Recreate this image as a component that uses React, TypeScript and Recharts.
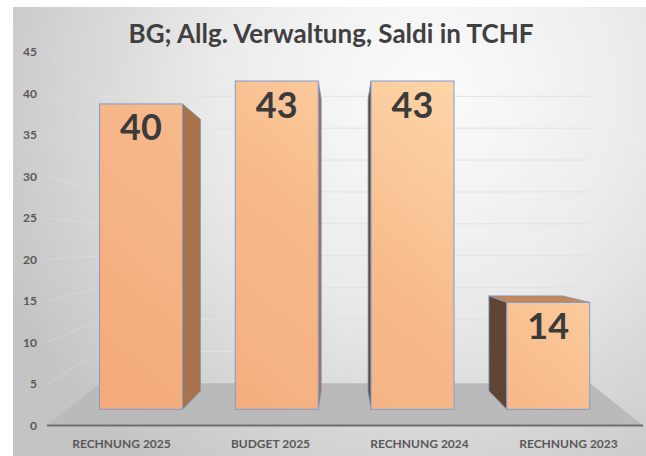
import React from 'react';
import { BarChart, Bar, XAxis, YAxis, LabelList } from 'recharts';

const categories = ['RECHNUNG 2025', 'BUDGET 2025', 'RECHNUNG 2024', 'RECHNUNG 2023'];
const saldi = [40, 43, 43, 14];
const yTicks = [0, 5, 10, 15, 20, 25, 30, 35, 40, 45];

const data = categories.map((name, i) => ({ name, saldo: saldi[i] }));

// fake 3d: vanishing point and depth factor for the bar backs
const VX = 345;
const VY = 243;
const K_BAR = 0.89;

// decoration geometry (floor + walls)
const FRONT_Y0 = 425.5;
const FRONT_STEP = 8.3;
const K_WALL = 0.768;
const WALL_L = 100;
const WALL_R = 590;

function Bar3D(props: any) {
  const { x, y, width, height } = props;
  const x0 = x, x1 = x + width, y0 = y, y1 = y + height;
  const bx = (v: number) => VX + (v - VX) * K_BAR;
  const by = (v: number) => VY + (v - VY) * K_BAR;
  const pts = (a: number[][]) => a.map((p) => p.join(',')).join(' ');
  return (
    <g>
      {x1 < VX && (
        <polygon
          points={pts([[x1, y0], [bx(x1), by(y0)], [bx(x1), by(y1)], [x1, y1]])}
          fill="#a8724a"
          stroke="#7d8fb5"
          strokeWidth={0.8}
        />
      )}
      {x0 > VX && (
        <polygon
          points={pts([[x0, y0], [bx(x0), by(y0)], [bx(x0), by(y1)], [x0, y1]])}
          fill="#5f4533"
          stroke="#7d8fb5"
          strokeWidth={0.8}
        />
      )}
      {y0 > VY && (
        <polygon
          points={pts([[x0, y0], [x1, y0], [bx(x1), by(y0)], [bx(x0), by(y0)]])}
          fill="#c4875c"
          stroke="#7d8fb5"
          strokeWidth={0.8}
        />
      )}
      <rect x={x0} y={y0} width={width} height={height} fill="url(#frontFill)" stroke="#7e9ccf" strokeWidth={1} />
    </g>
  );
}

function Backdrop() {
  const wallY = (v: number) => VY + (FRONT_Y0 - FRONT_STEP * v - VY) * K_WALL;
  const floorBack = wallY(0);
  return (
    <svg width={646} height={456} style={{ position: 'absolute', left: 0, top: 0 }}>
      <defs>
        <radialGradient id="bg" gradientUnits="userSpaceOnUse" cx={430} cy={90} r={470}>
          <stop offset="0" stopColor="#fcfcfc" />
          <stop offset="0.45" stopColor="#ebebeb" />
          <stop offset="1" stopColor="#c4c4c4" />
        </radialGradient>
      </defs>
      <rect x={13} y={7} width={633} height={449} fill="url(#bg)" />
      {yTicks.filter((t) => t > 0).map((t) => (
        <g key={t}>
          <line x1={WALL_L} x2={WALL_R} y1={wallY(t)} y2={wallY(t)} stroke="#e2e2e2" strokeWidth={1} />
          <line x1={47} x2={WALL_L} y1={FRONT_Y0 - FRONT_STEP * t} y2={wallY(t)} stroke="#efefef" strokeWidth={1} opacity={0.3} />
        </g>
      ))}
      <polygon
        points={`47,${FRONT_Y0} 643,${FRONT_Y0} ${WALL_R},${floorBack} ${WALL_L},${floorBack}`}
        fill="#bababa"
      />
      <text
        x={331}
        y={43}
        textAnchor="middle"
        fontFamily="Lato, 'Open Sans', sans-serif"
        fontWeight={700}
        fontSize={26}
        fill="#404040"
      >
        BG; Allg. Verwaltung, Saldi in TCHF
      </text>
    </svg>
  );
}

export default function App() {
  return (
    <div style={{ position: 'absolute', left: 0, top: 0, width: 646, height: 456, background: '#ffffff' }}>
      <Backdrop />
      <div style={{ position: 'absolute', left: 0, top: 0 }}>
        <BarChart width={646} height={456} data={data} margin={{ top: 52, right: 3, bottom: 0.5, left: 17 }}>
          <defs>
            <linearGradient id="frontFill" gradientUnits="userSpaceOnUse" x1={150} y1={420} x2={450} y2={60}>
              <stop offset="0" stopColor="#f3aa7c" />
              <stop offset="0.55" stopColor="#f7ba8b" />
              <stop offset="1" stopColor="#fed8aa" />
            </linearGradient>
          </defs>
          <XAxis
            xAxisId="label"
            dataKey="name"
            height={30}
            tickSize={0}
            tickMargin={14}
            axisLine={{ stroke: '#6f6f6f', strokeWidth: 2 }}
            tick={{ fill: '#595959', fontSize: 12, fontWeight: 700, fontFamily: 'Lato' }}
            interval={0}
          />
          <XAxis xAxisId="bar" dataKey="name" hide height={0} padding={{ left: 26.5, right: 26.5 }} />
          <YAxis
            yAxisId="tick"
            dataKey="saldo"
            type="number"
            domain={[0, 45]}
            allowDataOverflow
            ticks={yTicks}
            interval={0}
            width={30}
            tickSize={0}
            tickMargin={10}
            axisLine={false}
            tick={{ fill: '#595959', fontSize: 12, fontWeight: 700, fontFamily: 'Lato' }}
          />
          <YAxis yAxisId="bar" type="number" domain={[-2.12, 46.8]} allowDataOverflow hide width={0} />
          <Bar
            xAxisId="bar"
            yAxisId="bar"
            dataKey="saldo"
            barSize={83}
            isAnimationActive={false}
            shape={(p: any) => <Bar3D {...p} />}
          >
            <LabelList
              dataKey="saldo"
              position="insideTop"
              offset={11}
              fill="#3b3b3b"
              fontSize={36}
              fontWeight={700}
              fontFamily="Lato"
            />
          </Bar>
        </BarChart>
      </div>
    </div>
  );
}
